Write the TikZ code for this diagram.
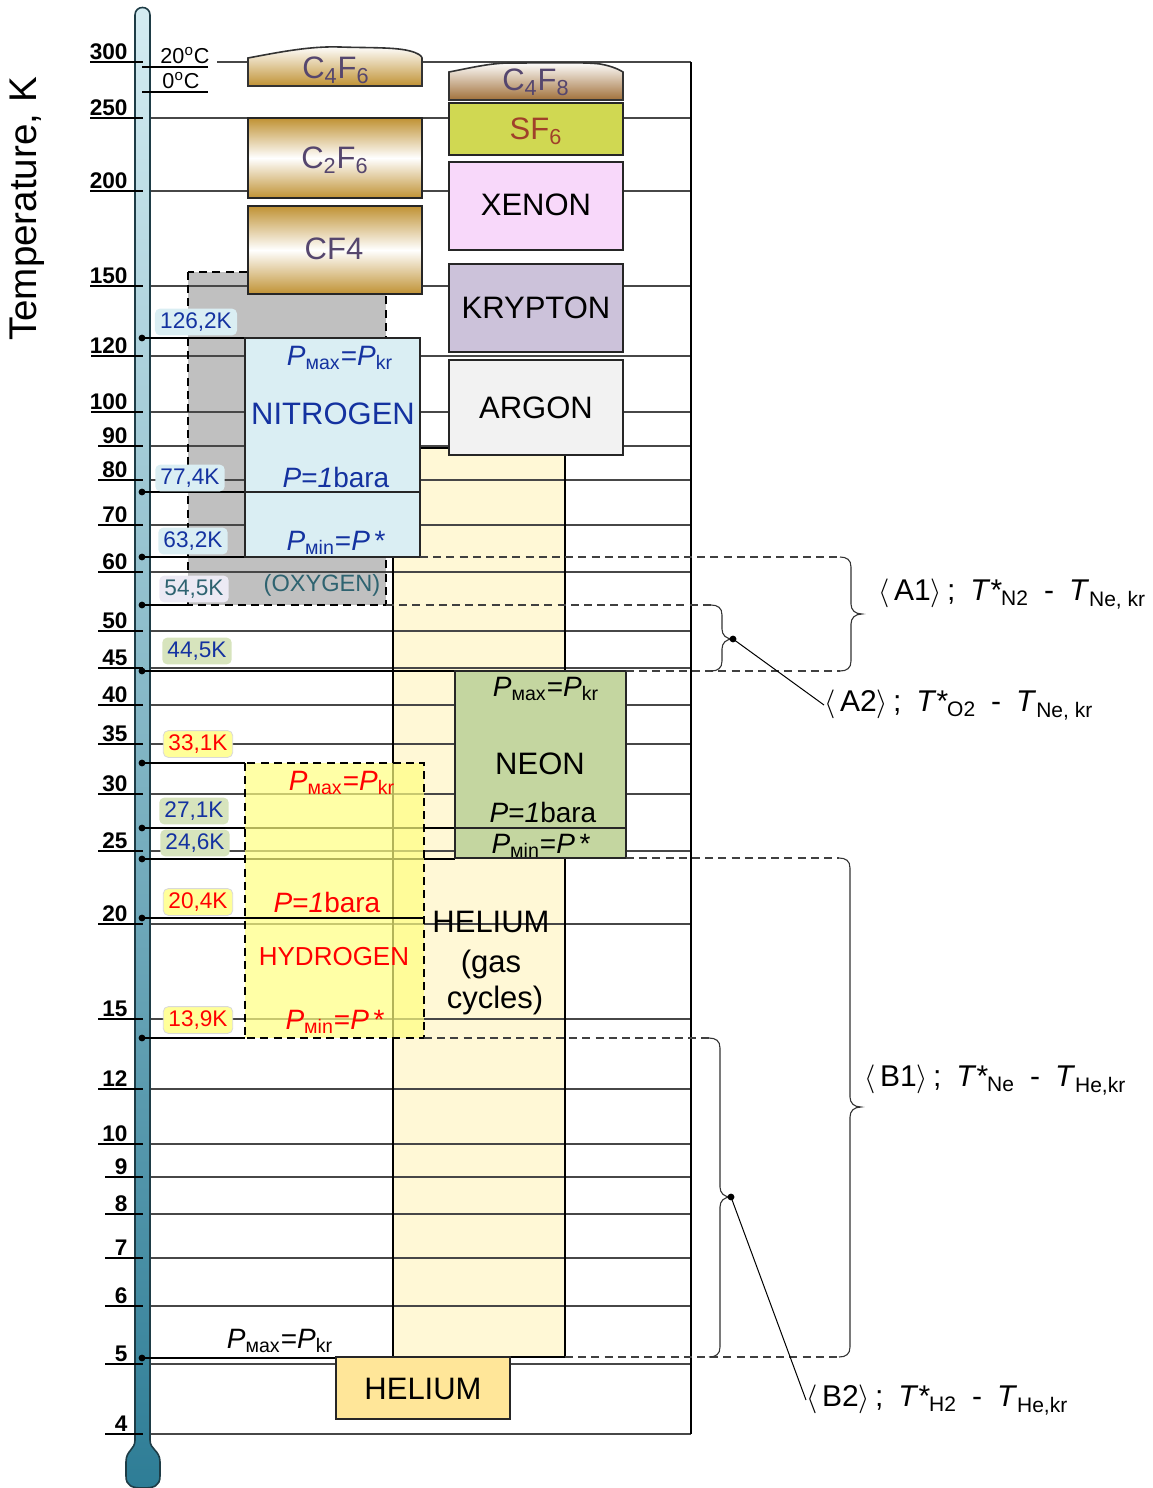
\documentclass[tikz,border=0pt]{standalone}
\usepackage{fontspec}
\setmainfont{Liberation Sans}
\usepackage{amsmath}
\definecolor{nblue}{RGB}{20,50,160}
\definecolor{oxtxt}{RGB}{46,99,112}
\definecolor{ctxt}{RGB}{85,70,110}
\definecolor{sftxt}{RGB}{160,64,42}
\definecolor{gold}{RGB}{192,146,52}
\definecolor{brownc}{RGB}{160,112,58}
\definecolor{sfcol}{RGB}{208,216,82}
\definecolor{xecol}{RGB}{248,216,250}
\definecolor{krcol}{RGB}{204,194,218}
\definecolor{arcol}{RGB}{242,242,242}
\definecolor{ncol}{RGB}{218,238,243}
\definecolor{oxcol}{RGB}{192,192,192}
\definecolor{hecol}{RGB}{255,248,214}
\definecolor{necol}{RGB}{196,214,160}
\definecolor{hycol}{RGB}{255,255,128}
\definecolor{hebox}{RGB}{255,230,153}
\definecolor{lblue}{RGB}{218,238,243}
\definecolor{llav}{RGB}{236,234,244}
\definecolor{lgreen}{RGB}{215,228,189}
\definecolor{lyel}{RGB}{255,255,153}
\definecolor{thtop}{RGB}{212,236,242}
\definecolor{thbot}{RGB}{46,125,150}
\definecolor{thedge}{RGB}{30,60,70}
\newcommand{\fsz}[1]{\fontsize{#1}{#1}\selectfont}
\newcommand{\Pmx}{\textit{P}\textsubscript{мах}=\textit{P}\textsubscript{kr}}
\newcommand{\Pmn}{\textit{P}\textsubscript{мin}=\textit{P}\,*}
\newcommand{\Pone}{\textit{P}=\textit{1}bara}
\newcommand{\Tst}[1]{\textit{T}*\kern-0.5pt\textsubscript{#1}}
\newcommand{\mybrace}[4]{%
 \draw[bracel] ({#1-11},#2) .. controls ({#1-4},#2) and (#1,{#2+3}) .. (#1,{#2+10})
  -- (#1,{#4-10}) .. controls (#1,{#4-4}) and ({#1+4},#4) .. ({#1+11},#4)
  .. controls ({#1+4},#4) and (#1,{#4+4}) .. (#1,{#4+10})
  -- (#1,{#3-10}) .. controls (#1,{#3-3}) and ({#1-4},#3) .. ({#1-11},#3);}
\begin{document}
\begin{tikzpicture}[x=0.5pt,y=-0.5pt,
  every node/.style={inner sep=0pt,outer sep=0pt},
  gline/.style={line width=0.55pt,draw=black!72},
  tickl/.style={line width=1pt,draw=black},
  boxd/.style={draw=black!85,line width=0.9pt},
  dashl/.style={draw=black!75,line width=0.6pt,dash pattern=on 4pt off 2.6pt},
  dashbox/.style={draw=black,line width=0.7pt,dash pattern=on 4pt off 2.6pt},
  dotline/.style={line width=1pt,draw=black},
  dotn/.style={circle,fill=black,minimum size=3.4pt},
  bracel/.style={line width=0.55pt,draw=black!80},
  lbl/.style={rounded corners=2.5pt,inner xsep=2.6pt,inner ysep=1.6pt,text height=8.2pt,text depth=2pt,font=\fsz{11.3}},
  big/.style={font=\fsz{15.5},anchor=base},
  mid/.style={font=\fsz{14},anchor=base},
  brt/.style={font=\fsz{15},anchor=west}]
\useasboundingbox (0,0) rectangle (1152,1488);
% background fills
\fill[oxcol] (188,272) rectangle (386,605);
\fill[hecol] (393,448) rectangle (565,1357);
% grid lines
\foreach \y in {118,191,286,356,412,446,480,525,572,631,668,705,744,794,851,924,1019,1089,1144,1177,1214,1258,1306,1364,1434}
  \draw[gline] (150,\y) -- (691,\y);
\draw[gline] (217,62) -- (691,62);
\draw[line width=1pt] (691,62) -- (691,1434);
% thermometer
\shade[top color=thtop,bottom color=thbot,draw=thedge,line width=0.8pt]
  (135,1440) -- (135,15) .. controls (135,5) and (150,5) .. (150,15) -- (150,1440)
  .. controls (150,1450) and (160,1450) .. (160,1462) -- (160,1476)
  .. controls (160,1486) and (154,1488) .. (143,1488)
  .. controls (132,1488) and (126,1486) .. (126,1476) -- (126,1462)
  .. controls (126,1450) and (135,1450) .. (135,1440) -- cycle;
% ticks and numbers
\foreach \y/\l/\x in {62/300/90,118/250/90,191/200/90,286/150/90,356/120/91,412/100/91,446/90/98,480/80/98,525/70/98,572/60/98,631/50/98,668/45/98,705/40/98,744/35/98,794/30/98,851/25/98,924/20/98,1019/15/98,1089/12/98,1144/10/98,1177/9/105,1214/8/105,1258/7/105,1306/6/105,1364/5/105,1434/4/105}{
  \draw[tickl] (\x,\y) -- (143,\y);
  \node[anchor=base east,font=\fsz{11.3}\bfseries] (tk\l) at (127.5,\y-3) {\l};
}
\node[rotate=90,font=\fsz{19.3}] (ttl) at (27,209) {Temperature, K};
% 20C / 0C
\draw[tickl] (142,67) -- (208,67);
\draw[tickl] (142,92) -- (208,92);
\node[anchor=base,font=\fsz{10.8}] (c20) at (185,63) {20\textsuperscript{o}C};
\node[anchor=base,font=\fsz{10.8}] (c0) at (181,88) {0\textsuperscript{o}C};
% borders of background regions
\draw[dashbox] (188,272) rectangle (386,605);
\draw[line width=0.6pt] (393,448) rectangle (565,1357);
% fluorocarbon boxes
\shade[top color=white,bottom color=gold,draw=black!80,line width=0.8pt]
  (248,86) -- (248,58) .. controls (280,52) and (310,46) .. (340,47)
  .. controls (370,48) and (395,47) .. (410,51) .. controls (418,53) and (422,56) .. (422,58) -- (422,86) -- cycle;
\node[big,text=ctxt] (c4f6) at (336,78) {C\textsubscript{4}F\textsubscript{6}};
\shade[top color=gold,bottom color=gold,middle color=white,draw=black!85,line width=0.9pt] (248,118) rectangle (422,198);
\node[big,text=ctxt] (c2f6) at (335,168) {C\textsubscript{2}F\textsubscript{6}};
\shade[top color=gold,bottom color=gold,middle color=white,draw=black!85,line width=0.9pt] (248,206) rectangle (422,294);
\node[big,text=ctxt] (cf4) at (334,259) {CF4};
\shade[top color=white,bottom color=brownc,draw=black!80,line width=0.8pt]
  (449,100) -- (449,72) .. controls (470,68) and (490,63) .. (510,63)
  .. controls (550,63) and (585,62) .. (600,64) .. controls (612,66) and (620,70) .. (623,72) -- (623,100) -- cycle;
\node[big,text=ctxt] (c4f8) at (536,90) {C\textsubscript{4}F\textsubscript{8}};
\draw[boxd,fill=sfcol] (449,103) rectangle (623,155);
\node[big,text=sftxt] (sf6) at (536,139) {SF\textsubscript{6}};
\draw[boxd,fill=xecol] (449,162) rectangle (623,250);
\node[big] (xe) at (536,215) {XENON};
\draw[boxd,fill=krcol] (449,264) rectangle (623,352);
\node[big] (kr) at (536,318) {KRYPTON};
\draw[boxd,fill=arcol] (449,360) rectangle (623,455);
\node[big] (ar) at (536,418) {ARGON};
% thermometer marker lines
\foreach \y/\e in {338/245,492/245,557/245,605/188,671/455,763/245,828/455,859/455,918/245,1038/245,1358/336}{
  \node[dotn] (d\y) at (142,\y) {};
  \draw[dotline] (d\y.center) -- (\e,\y);
}
% nitrogen
\draw[boxd,fill=ncol] (245,338) rectangle (420,557);
\draw[boxd] (245,492) -- (420,492);
\node[mid,text=nblue] (n1) at (340,365) {\Pmx};
\node[big,text=nblue] (n2) at (333,424) {NITROGEN};
\node[mid,text=nblue] (n3) at (336,487) {\Pone};
\node[mid,text=nblue] (n4) at (336,550) {\Pmn};
\node[anchor=base,font=\fsz{11.8},text=oxtxt] (ox) at (322,591) {(OXYGEN)};
% neon
\draw[boxd,fill=necol] (455,671) rectangle (626,858);
\draw[boxd] (455,828) -- (626,828);
\node[mid] (ne1) at (546,696) {\Pmx};
\node[big] (ne2) at (540,774) {NEON};
\node[mid] (ne3) at (543,822) {\Pone};
\node[mid] (ne4) at (541,853) {\Pmn};
% hydrogen (translucent)
\fill[hycol,fill opacity=0.7] (245,763) rectangle (424,1038);
\draw[dashbox] (245,763) rectangle (424,1038);
\draw[dotline] (245,918) -- (424,918);
\node[mid,text=red] (h1) at (342,790) {\Pmx};
\node[mid,text=red] (h2) at (327,912) {\Pone};
\node[anchor=base,font=\fsz{13},text=red] (h3) at (334,965) {HYDROGEN};
\node[mid,text=red] (h4) at (335,1029) {\Pmn};
% helium
\node[big] (he1) at (491,932) {HELIUM};
\node[big] (he2) at (491,972) {(gas};
\node[big] (he3) at (495,1008) {cycles)};
\draw[boxd,fill=hebox] (336,1357) rectangle (510,1419);
\node[big] (he4) at (423,1399) {HELIUM};
\node[mid] (he5) at (280,1348) {\Pmx};
% temperature labels
\node[lbl,fill=lblue,text=nblue] (l126) at (196,322) {126,2K};
\node[lbl,fill=lblue,text=nblue] (l77) at (190,478) {77,4K};
\node[lbl,fill=lblue,text=nblue] (l63) at (193,541) {63,2K};
\node[lbl,fill=llav,text=oxtxt] (l54) at (194,589) {54,5K};
\node[lbl,fill=lgreen,text=nblue] (l44) at (197,651) {44,5K};
\node[lbl,fill=lyel,draw=black!15,text=red] (l33) at (198,744) {33,1K};
\node[lbl,fill=lgreen,text=nblue] (l27) at (194,811) {27,1K};
\node[lbl,fill=lgreen,text=nblue] (l24) at (195,843) {24,6K};
\node[lbl,fill=lyel,draw=black!15,text=red] (l20) at (198,902) {20,4K};
\node[lbl,fill=lyel,draw=black!15,text=red] (l13) at (198,1020) {13,9K};
% dashed extensions
\draw[dashl] (420,557) -- (840,557);
\draw[dashl] (386,605) -- (711,605);
\draw[dashl] (626,671) -- (840,671);
\draw[dashl] (626,858) -- (839,858);
\draw[dashl] (424,1038) -- (709,1038);
\draw[dashl] (565,1357) -- (839,1357);
% braces
\mybrace{851}{557}{671}{614}
\mybrace{722}{605}{671}{639}
\mybrace{850}{858}{1357}{1107}
\mybrace{720}{1038}{1357}{1197}
\node[dotn] (dA2) at (733,639) {};
\node[dotn] (dB2) at (731,1197) {};
% bracket texts
\node[brt] (A1t) at (878,594) {$\langle$\,A1$\rangle$\,;\enspace\Tst{N2}\enspace-\enspace\textit{T}\textsubscript{Ne, kr}};
\node[brt] (A2t) at (824,705) {$\langle$\,A2$\rangle$\,;\enspace\Tst{O2}\enspace-\enspace\textit{T}\textsubscript{Ne, kr}};
\node[brt] (B1t) at (864,1080) {$\langle$\,B1$\rangle$\,;\enspace\Tst{Ne}\enspace-\enspace\textit{T}\textsubscript{He,kr}};
\node[brt] (B2t) at (806,1400) {$\langle$\,B2$\rangle$\,;\enspace\Tst{H2}\enspace-\enspace\textit{T}\textsubscript{He,kr}};
\draw[line width=0.5pt] (dA2.center) -- (A2t.west);
\draw[line width=0.5pt] (dB2.center) -- (B2t.west);
\end{tikzpicture}
\end{document}
